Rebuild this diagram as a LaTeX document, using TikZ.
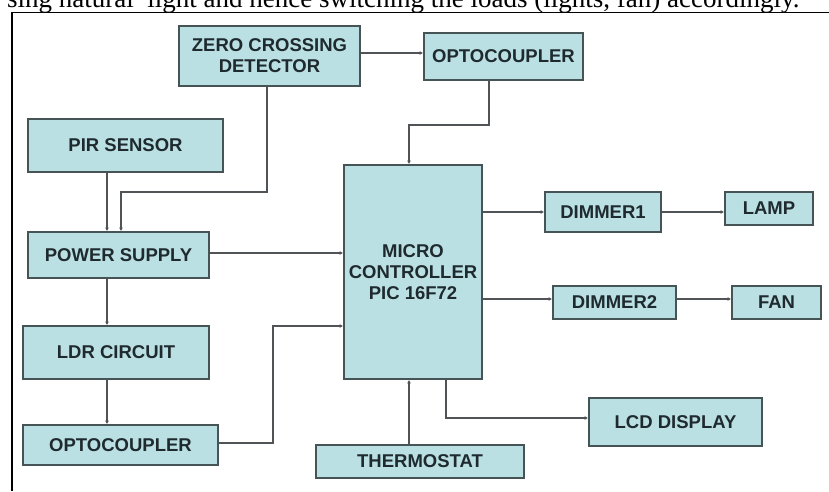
\documentclass[tikz,border=0pt]{standalone}
\usepackage{fontspec}
\setmainfont{Liberation Serif}
\newfontfamily\boxfont{Liberation Sans}
\usetikzlibrary{arrows.meta}
\definecolor{boxfill}{RGB}{187,224,228}
\definecolor{boxline}{RGB}{70,84,86}
\definecolor{wirec}{RGB}{80,84,86}
\definecolor{txt}{RGB}{30,42,46}
\begin{document}
\begin{tikzpicture}[x=1pt,y=-1pt,
  blk/.style={draw=boxline, line width=1.8pt, fill=boxfill, inner sep=0pt,
    text=txt, font=\boxfont\bfseries\fontsize{18.5}{21}\selectfont, align=center},
  wire/.style={draw=wirec, line width=1.7pt, -{Latex[length=3.5pt,width=4pt]}}]
\useasboundingbox (0,0) rectangle (829,491);
\clip (0,0) rectangle (829,491);
\fill[white] (0,0) rectangle (829,491);
% caption line (cut at top)
\node[anchor=base west, inner sep=0pt, font=\fontsize{27}{30}\selectfont] (caption) at (7,7.5)
  {sing natural \ light and hence switching the loads (lights, fan) accordingly.};
% frame
\draw[line width=1.4pt] (12,491) -- (12,12.5) -- (829,12.5);
% blocks
\node[blk, minimum width=181pt, minimum height=60pt] (zcd) at (269.5,56) {ZERO CROSSING\\DETECTOR};
\node[blk, minimum width=159pt, minimum height=47pt] (opto1) at (503.5,56.5) {OPTOCOUPLER};
\node[blk, minimum width=195pt, minimum height=53pt] (pir) at (125.5,145.5) {PIR SENSOR};
\node[blk, minimum width=181pt, minimum height=46pt] (ps) at (118.5,255) {POWER SUPPLY};
\node[blk, minimum width=138pt, minimum height=214pt] (mcu) at (413,272) {MICRO\\CONTROLLER\\PIC 16F72};
\node[blk, minimum width=116pt, minimum height=40pt] (dim1) at (603,212) {DIMMER1};
\node[blk, minimum width=88pt, minimum height=33pt] (lamp) at (769,208.5) {LAMP};
\node[blk, minimum width=123pt, minimum height=33pt] (dim2) at (614.5,302.5) {DIMMER2};
\node[blk, minimum width=89pt, minimum height=33pt] (fan) at (776.5,302.5) {FAN};
\node[blk, minimum width=186pt, minimum height=53pt] (ldr) at (116,352.5) {LDR CIRCUIT};
\node[blk, minimum width=195pt, minimum height=40pt] (opto2) at (120.5,445) {OPTOCOUPLER};
\node[blk, minimum width=208pt, minimum height=33pt] (thermo) at (420,461.5) {THERMOSTAT};
\node[blk, minimum width=173pt, minimum height=48pt] (lcd) at (675.5,422) {LCD DISPLAY};
% helper coordinates
\coordinate (zo) at (0,53);
\coordinate (zb1) at (267,192);
\coordinate (zb2) at (121,192);
\coordinate (lx) at (107,0);
\coordinate (py) at (0,253);
\coordinate (o2a) at (273,443);
\coordinate (o2b) at (273,326);
\coordinate (o1a) at (489,125);
\coordinate (o1b) at (409,125);
\coordinate (d1y) at (0,212);
\coordinate (d2y) at (0,299);
\coordinate (lc) at (446,418);
% connectors
\draw[wire] (zcd.east |- zo) -- (opto1.west |- zo);
\draw[wire] (zcd.south -| zb1) -- (zb1) -- (zb2) -- (zb2 |- ps.north);
\draw[wire] (pir.south -| lx) -- (ps.north -| lx);
\draw[wire] (ps.east |- py) -- (mcu.west |- py);
\draw[wire] (ps.south -| lx) -- (ldr.north -| lx);
\draw[wire] (ldr.south -| lx) -- (opto2.north -| lx);
\draw[wire] (opto2.east |- o2a) -- (o2a) -- (o2b) -- (mcu.west |- o2b);
\draw[wire] (opto1.south -| o1a) -- (o1a) -- (o1b) -- (mcu.north -| o1b);
\draw[wire] (mcu.east |- d1y) -- (dim1.west |- d1y);
\draw[wire] (dim1.east |- d1y) -- (lamp.west |- d1y);
\draw[wire] (mcu.east |- d2y) -- (dim2.west |- d2y);
\draw[wire] (dim2.east |- d2y) -- (fan.west |- d2y);
\draw[wire] (thermo.north -| o1b) -- (mcu.south -| o1b);
\draw[wire] (mcu.south -| lc) -- (lc) -- (lcd.west |- lc);
\end{tikzpicture}
\end{document}
